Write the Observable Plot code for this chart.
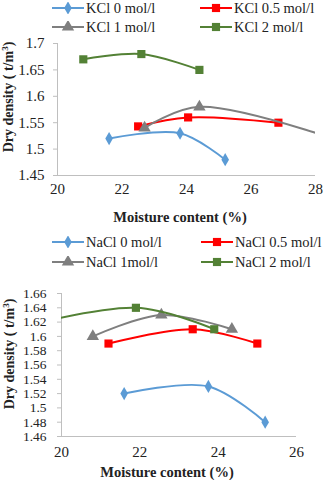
<!DOCTYPE html>
<html>
<head>
<meta charset="utf-8">
<script src="https://cdn.jsdelivr.net/npm/d3@7"></script>
<script src="https://cdn.jsdelivr.net/npm/@observablehq/plot@0.6"></script>
<style>
  html, body { margin: 0; padding: 0; background: #fff; }
  #root { position: relative; width: 323px; height: 480px; overflow: hidden; font-family: 'Liberation Serif'; color: #222; }
  .legend-item { position: absolute; display: flex; align-items: center; font-family: 'Liberation Serif'; font-size: 14.5px; white-space: nowrap; height: 16px; }
  .legend-item svg { margin-right: 2px; }
  .ytitle { position: absolute; font-family: 'Liberation Serif'; font-weight: bold; font-size: 14px; white-space: nowrap; transform: translate(-50%, -50%) rotate(-90deg); }
  .xtitle { position: absolute; font-family: 'Liberation Serif'; font-weight: bold; font-size: 14.5px; white-space: nowrap; transform: translate(-50%, -50%); }
  sup { font-size: 9px; vertical-align: 5px; line-height: 0; }
  svg text { font-family: 'Liberation Serif' !important; }
</style>
</head>
<body>
<div id="root"></div>
<script>
// ---------- Data ----------
// Top chart (KCl)
const kclNames = ["KCl 0 mol/l", "KCl 0.5 mol/l", "KCl 1 mol/l", "KCl 2 mol/l"];
const kcl0X = [21.6, 23.8, 25.2];   const kcl0Y = [1.52, 1.53, 1.48];
const kcl05X = [22.5, 24.05, 26.85]; const kcl05Y = [1.543, 1.56, 1.55];
const kcl1X = [22.7, 24.4, 30];     const kcl1Y = [1.54, 1.58, 1.49];
const kcl2X = [20.8, 22.6, 24.4];   const kcl2Y = [1.67, 1.68, 1.65];
const kclXTicks = [20, 22, 24, 26, 28];
const kclYTicks = [1.45, 1.5, 1.55, 1.6, 1.65, 1.7];

// Bottom chart (NaCl)
const naclNames = ["NaCl 0 mol/l", "NaCl 0.5 mol/l", "NaCl 1mol/l", "NaCl 2 mol/l"];
const nacl0X = [21.6, 23.75, 25.2];  const nacl0Y = [1.52, 1.53, 1.48];
const nacl05X = [21.2, 23.35, 25.0]; const nacl05Y = [1.59, 1.61, 1.59];
const nacl1X = [20.8, 22.55, 24.35]; const nacl1Y = [1.60, 1.63, 1.61];
const nacl2X = [18, 21.9, 23.9];     const nacl2Y = [1.60, 1.64, 1.61];
const naclXTicks = [20, 22, 24, 26];
const naclYTicks = [1.46, 1.48, 1.5, 1.52, 1.54, 1.56, 1.58, 1.6, 1.62, 1.64, 1.66];

const xTitle = "Moisture content (%)";

// ---------- Styles ----------
const colors = ["#5b9bd5", "#ff0000", "#7f7f7f", "#538135"];
const symbols = ["diamond", "square", "triangle", "square"];
const sizes = [4, 4.6, 4.6, 4.6];
const axisColor = "#bfbfbf";
const font = "'Liberation Serif'";

function series(xs, ys, name) { return xs.map((x, i) => ({x, y: ys[i], name})); }

function makeChart(seriesList, opts) {
  const marks = [];
  seriesList.forEach((s, i) => {
    marks.push(Plot.line(s, {x: "x", y: "y", stroke: colors[i], strokeWidth: 2, curve: "catmull-rom", clip: true}));
    marks.push(Plot.dot(s, {x: "x", y: "y", fill: colors[i], stroke: "none", symbol: symbols[i], r: sizes[i], clip: true}));
  });
  return Plot.plot({
    width: 323,
    height: opts.height,
    marginLeft: opts.ml, marginRight: opts.mr, marginTop: opts.mt, marginBottom: opts.mb,
    style: {fontFamily: font, fontSize: opts.fs + "px", color: "#222", background: "transparent", overflow: "visible"},
    x: {domain: opts.xDomain, ticks: opts.xTicks},
    y: {domain: opts.yDomain, ticks: opts.yTicks},
    marks: [
      Plot.axisY({ticks: opts.yTicks, tickSize: 4, tickPadding: opts.yPad, stroke: axisColor, label: null, tickFormat: d => String(d), fontSize: opts.fs}),
      Plot.axisX({ticks: opts.xTicks, tickSize: 0, tickPadding: opts.xPad, label: null, tickFormat: d => String(d), fontSize: 15}),
      Plot.ruleX([opts.xDomain[0]], {stroke: axisColor}),
      Plot.ruleY([opts.yDomain[0]], {stroke: axisColor}),
      ...marks
    ]
  });
}

const root = document.getElementById("root");

function place(el, y) {
  el.style.position = "absolute";
  el.style.left = "0px";
  el.style.top = y + "px";
  el.querySelectorAll("text").forEach(t => t.setAttribute("font-family", "Liberation Serif"));
  root.appendChild(el);
}

// Top chart
const chartTop = makeChart([
  series(kcl0X, kcl0Y, kclNames[0]),
  series(kcl05X, kcl05Y, kclNames[1]),
  series(kcl1X, kcl1Y, kclNames[2]),
  series(kcl2X, kcl2Y, kclNames[3])
], {height: 230, ml: 57, mr: 8, mt: 43, mb: 55, xDomain: [20, 28], yDomain: [1.45, 1.7], xTicks: kclXTicks, yTicks: kclYTicks, yPad: 9, xPad: 8, fs: 15});
place(chartTop, 0);

// Bottom chart
const chartBottom = makeChart([
  series(nacl0X, nacl0Y, naclNames[0]),
  series(nacl05X, nacl05Y, naclNames[1]),
  series(nacl1X, nacl1Y, naclNames[2]),
  series(nacl2X, nacl2Y, naclNames[3])
], {height: 250, ml: 61, mr: 27, mt: 63, mb: 44, xDomain: [20, 26], yDomain: [1.46, 1.66], xTicks: naclXTicks, yTicks: naclYTicks, yPad: 11, xPad: 10, fs: 13.5});
place(chartBottom, 230);

// Legends
function swatch(i) {
  const svg = d3.create("svg").attr("width", 32).attr("height", 12);
  svg.append("line").attr("x1", 0).attr("x2", 32).attr("y1", 6).attr("y2", 6).attr("stroke", colors[i]).attr("stroke-width", 2);
  const sym = {diamond: d3.symbolDiamond, square: d3.symbolSquare, triangle: d3.symbolTriangle}[symbols[i]];
  svg.append("path").attr("transform", "translate(16,6)")
    .attr("d", d3.symbol(sym, Math.PI * sizes[i] * sizes[i])()).attr("fill", colors[i]);
  return svg.node();
}
function legend(names, y0, y1, colX) {
  const pos = [[colX[0], y0], [colX[1], y0], [colX[0], y1], [colX[1], y1]];
  names.forEach((n, i) => {
    const d = document.createElement("div");
    d.className = "legend-item";
    d.style.left = pos[i][0] + "px";
    d.style.top = (pos[i][1] - 8) + "px";
    d.appendChild(swatch(i));
    d.appendChild(document.createTextNode(n));
    root.appendChild(d);
  });
}
legend(kclNames, 8, 27, [52, 200]);
legend(naclNames, 242, 262, [52, 201]);

// Axis titles
function ytitle(cx, cy) {
  const d = document.createElement("div");
  d.className = "ytitle";
  d.style.left = cx + "px"; d.style.top = cy + "px";
  d.innerHTML = "Dry density ( t/m<sup>3</sup>)";
  root.appendChild(d);
}
function xtitleAt(cx, cy) {
  const d = document.createElement("div");
  d.className = "xtitle";
  d.style.left = cx + "px"; d.style.top = cy + "px";
  d.textContent = xTitle;
  root.appendChild(d);
}
ytitle(9, 97);
ytitle(10, 354);
xtitleAt(180, 217);
xtitleAt(167, 472);
</script>
</body>
</html>
